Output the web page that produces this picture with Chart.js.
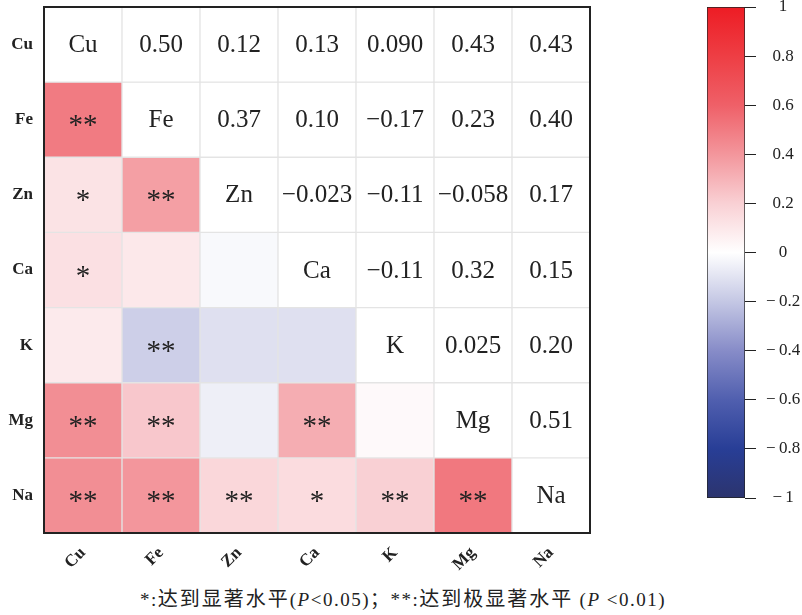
<!DOCTYPE html>
<html>
<head>
<meta charset="utf-8">
<script src="https://cdn.jsdelivr.net/npm/chart.js"></script>
<style>
  html, body { margin: 0; padding: 0; background: #fff; }
  #wrap { position: relative; width: 802px; height: 615px; overflow: hidden; }
  #heat { position: absolute; left: 0; top: 0; }
  #bar { position: absolute; left: 690px; top: 0; }
  #note {
    position: absolute; left: 140px; top: 583px; white-space: nowrap; letter-spacing: 1.5px;
    font: 19px "Liberation Serif", "Noto Sans CJK SC", serif; color: #222;
  }
  #note .cn { font-family: "Noto Sans CJK SC", sans-serif; font-size: 20px; letter-spacing: 2px; }
</style>
</head>
<body>
<div id="wrap">
  <canvas id="heat" width="600" height="578"></canvas>
  <canvas id="bar" width="112" height="520"></canvas>
  <div id="note">*:<span class="cn">达到显著水平</span>(<i>P</i>&lt;0.05)；**:<span class="cn">达到极显著水平</span> (<i>P</i> &lt;0.01)</div>
</div>
<script>
// elements, in matrix order
const elements = ['Cu', 'Fe', 'Zn', 'Ca', 'K', 'Mg', 'Na'];

// correlation rows (symmetric matrix)
const rowCu = [1, 0.50, 0.12, 0.13, 0.090, 0.43, 0.43];
const rowFe = [0.50, 1, 0.37, 0.10, -0.17, 0.23, 0.40];
const rowZn = [0.12, 0.37, 1, -0.023, -0.11, -0.058, 0.17];
const rowCa = [0.13, 0.10, -0.023, 1, -0.11, 0.32, 0.15];
const rowK  = [0.090, -0.17, -0.11, -0.11, 1, 0.025, 0.20];
const rowMg = [0.43, 0.23, -0.058, 0.32, 0.025, 1, 0.51];
const rowNa = [0.43, 0.40, 0.17, 0.15, 0.20, 0.51, 1];

// significance marks below the diagonal
const starCu = [];
const starFe = ['**'];
const starZn = ['*', '**'];
const starCa = ['*', '', ''];
const starK  = ['', '**', '', ''];
const starMg = ['**', '**', '', '**', ''];
const starNa = ['**', '**', '**', '*', '**', '**'];

// colour bar ticks
const barTicks = [-1, -0.8, -0.6, -0.4, -0.2, 0, 0.2, 0.4, 0.6, 0.8, 1];

const matrix = [rowCu, rowFe, rowZn, rowCa, rowK, rowMg, rowNa];
const stars = [starCu, starFe, starZn, starCa, starK, starMg, starNa];

// blue - white - red
const colorStops = [
  [-1.0, [44, 52, 110]],
  [-0.8, [40, 62, 150]],
  [-0.6, [80, 95, 175]],
  [-0.4, [135, 140, 200]],
  [-0.2, [196, 199, 228]],
  [0.0, [255, 255, 255]],
  [0.2, [249, 208, 212]],
  [0.4, [243, 150, 156]],
  [0.6, [239, 96, 104]],
  [0.8, [238, 62, 68]],
  [1.0, [237, 28, 36]]
];

function colorFor(v) {
  for (let i = 1; i < colorStops.length; i++) {
    const [v0, c0] = colorStops[i - 1];
    const [v1, c1] = colorStops[i];
    if (v <= v1) {
      const t = (v - v0) / (v1 - v0);
      const c = c0.map((a, k) => Math.round(a + (c1[k] - a) * t));
      return `rgb(${c[0]},${c[1]},${c[2]})`;
    }
  }
  return 'rgb(237,28,36)';
}

function fmt(v) {
  const s = v.toPrecision(2);
  return v < 0 ? '\u2212' + s.slice(1) : s;
}

const serif = '"Liberation Serif", "Times New Roman", serif';

const cellText = {
  id: 'cellText',
  afterDraw(chart) {
    const { ctx, chartArea, scales: { x, y } } = chart;
    ctx.save();
    ctx.fillStyle = '#222';
    ctx.textAlign = 'center';
    ctx.textBaseline = 'middle';
    matrix.forEach((row, r) => {
      row.forEach((v, c) => {
        const px = x.getPixelForValue(c);
        const py = y.getPixelForValue(r);
        if (c === r) {
          ctx.font = '25px ' + serif;
          ctx.fillText(elements[r], px, py + 1);
        } else if (c > r) {
          ctx.font = '25px ' + serif;
          ctx.fillText(fmt(v), px, py + 1);
        } else if (stars[r][c]) {
          ctx.font = '29px ' + serif;
          ctx.fillText(stars[r][c], px, py + 7);
        }
      });
    });
    ctx.strokeStyle = '#222';
    ctx.lineWidth = 2;
    ctx.strokeRect(chartArea.left, chartArea.top, chartArea.right - chartArea.left, chartArea.bottom - chartArea.top);
    ctx.restore();
  }
};

new Chart(document.getElementById('heat'), {
  type: 'bar',
  data: {
    labels: elements,
    datasets: matrix.map((row, r) => ({
      label: elements[r],
      data: row.map(() => [r - 0.5, r + 0.5]),
      backgroundColor: ctx => ctx.dataIndex < r ? colorFor(row[ctx.dataIndex]) : '#ffffff',
      borderColor: '#e4e4e4',
      borderWidth: 1,
      borderSkipped: false,
      grouped: false,
      barPercentage: 1,
      categoryPercentage: 1
    }))
  },
  options: {
    responsive: false,
    animation: false,
    layout: { padding: { top: 7, right: 10, left: 0, bottom: 0 } },
    plugins: { legend: { display: false }, tooltip: { enabled: false } },
    scales: {
      x: {
        grid: { display: false, drawTicks: false },
        border: { display: false },
        ticks: { minRotation: 45, maxRotation: 45, color: '#222', font: { family: serif, size: 17, weight: 'bold' }, padding: 10 },
        afterFit: s => { s.height = 45; s.paddingLeft = 0; s.paddingRight = 0; }
      },
      y: {
        reverse: true,
        min: -0.5,
        max: 6.5,
        grid: { display: false, drawTicks: false },
        border: { display: false },
        afterBuildTicks: s => { s.ticks = elements.map((_, i) => ({ value: i })); },
        ticks: { callback: v => elements[v], color: '#222', font: { family: serif, size: 17, weight: 'bold' }, padding: 11 },
        afterFit: s => { s.width = 44; s.paddingTop = 0; s.paddingBottom = 0; }
      }
    }
  },
  plugins: [cellText]
});

new Chart(document.getElementById('bar'), {
  type: 'bar',
  data: {
    labels: ['r'],
    datasets: [{
      data: [[-1, 1]],
      backgroundColor: ctx => {
        const { chart } = ctx;
        const ys = chart.scales.y;
        if (!chart.chartArea || !ys) return '#fff';
        const g = chart.ctx.createLinearGradient(0, ys.getPixelForValue(-1), 0, ys.getPixelForValue(1));
        colorStops.forEach(([v, c]) => g.addColorStop((v + 1) / 2, `rgb(${c[0]},${c[1]},${c[2]})`));
        return g;
      },
      borderColor: '#222',
      borderWidth: 1,
      borderSkipped: false,
      barPercentage: 1,
      categoryPercentage: 1
    }]
  },
  options: {
    responsive: false,
    animation: false,
    layout: { padding: { top: 7, left: 17, bottom: 22, right: 0 } },
    plugins: { legend: { display: false }, tooltip: { enabled: false } },
    scales: {
      x: { display: false },
      y: {
        position: 'right',
        min: -1,
        max: 1,
        afterBuildTicks: s => { s.ticks = barTicks.map(v => ({ value: v })); },
        grid: { drawOnChartArea: false, drawTicks: true, tickLength: 11, color: '#222' },
        border: { display: false },
        ticks: {
          crossAlign: 'center',
          padding: 10,
          color: '#222',
          font: { family: serif, size: 17 },
          callback: v => v < 0 ? '\u2212\u2009' + String(Math.abs(v)) : String(v)
        },
        afterFit: s => { s.width = 57; s.paddingTop = 0; s.paddingBottom = 0; }
      }
    }
  }
});
</script>
</body>
</html>
